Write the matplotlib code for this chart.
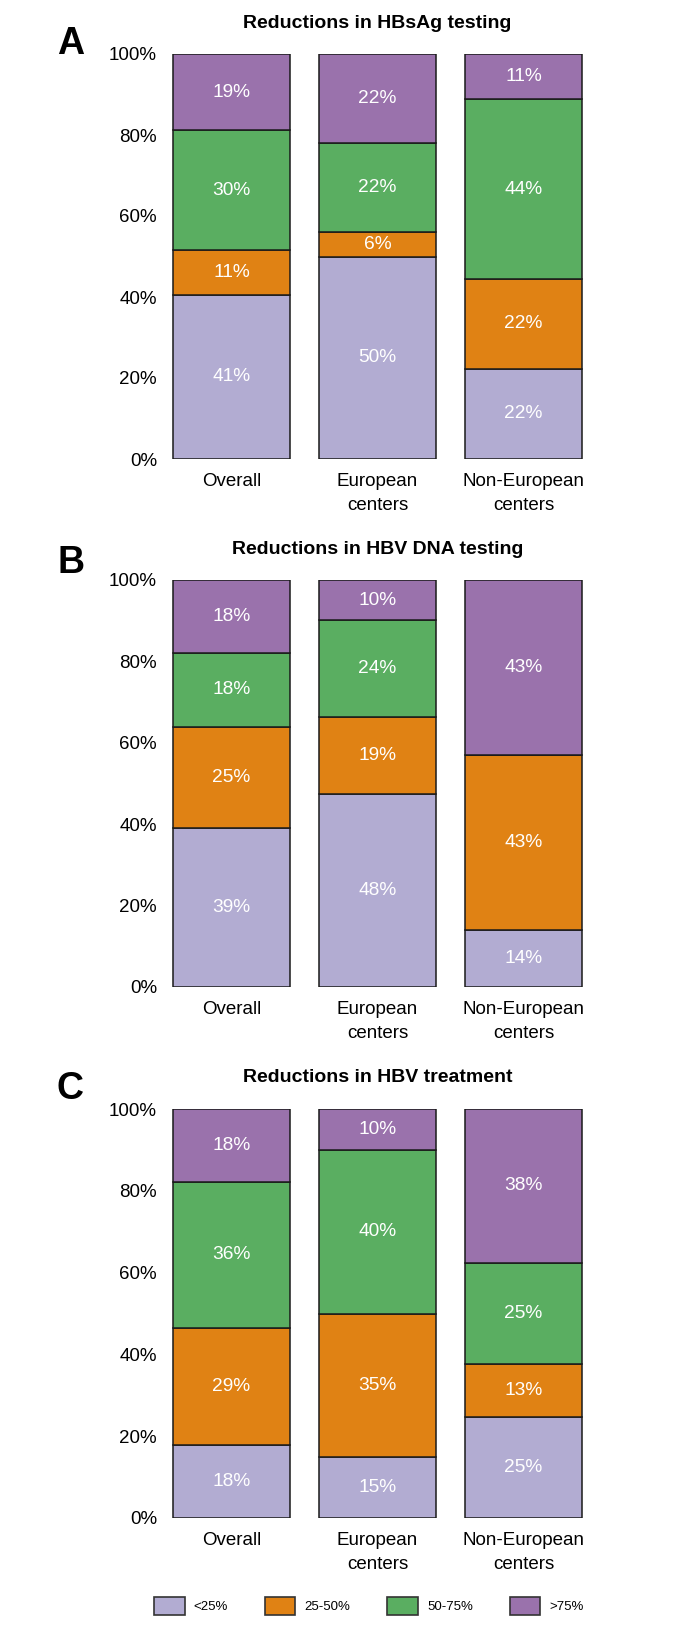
import matplotlib
matplotlib.use("Agg")
import matplotlib.pyplot as plt
import numpy as np
from matplotlib.patches import Patch

plt.rcParams['font.family'] = ['Liberation Sans', 'DejaVu Sans']

categories = ["Overall", "European\ncenters", "Non-European\ncenters"]
levels = ["<25%", "25-50%", "50-75%", ">75%"]
colors = ["#b2acd2", "#e08214", "#5aae61", "#9a72ac"]

# percent of centers per reduction level, rows = levels, cols = categories
hbsag = [[41, 50, 22],
         [11, 6, 22],
         [30, 22, 44],
         [19, 22, 11]]
hbv_dna = [[39, 48, 14],
           [25, 19, 43],
           [18, 24, 0],
           [18, 10, 43]]
hbv_treat = [[18, 15, 25],
             [29, 35, 13],
             [36, 40, 25],
             [18, 10, 38]]

panels = [("A", "Reductions in HBsAg testing", hbsag),
          ("B", "Reductions in HBV DNA testing", hbv_dna),
          ("C", "Reductions in HBV treatment", hbv_treat)]

W, H = 692, 1627
fig = plt.figure(figsize=(W / 100, H / 100), dpi=100)

# axes top/bottom in pixels, letter centre y
boxes = [(54, 459, 44), (580, 987, 563), (1109, 1518, 1089)]

x = np.arange(len(categories))
for (letter, title, data), (top, bot, ly) in zip(panels, boxes):
    ax = fig.add_axes([158.5 / W, 1 - bot / H, 438 / W, (bot - top) / H])
    vals = np.array(data, dtype=float)
    shares = vals / vals.sum(axis=0) * 100
    bottom = np.zeros(len(categories))
    for i in range(len(levels)):
        bars = ax.bar(x, shares[i], 0.8, bottom=bottom, color=colors[i],
                      edgecolor="#1a1a1a", linewidth=1.1)
        labs = ["%d%%" % v if v > 0 else "" for v in vals[i]]
        ax.bar_label(bars, labels=labs, label_type="center", color="white",
                     fontsize=13.8)
        bottom += shares[i]
    ax.set_xlim(-0.5, 2.5)
    ax.set_ylim(0, 100)
    ax.set_yticks(range(0, 101, 20))
    ax.set_yticklabels(["%d%%" % t for t in range(0, 101, 20)])
    ax.set_xticks(x)
    ax.set_xticklabels(categories, linespacing=1.55)
    ax.tick_params(length=0, labelsize=13.5)
    ax.tick_params(axis="y", pad=1)
    ax.tick_params(axis="x", pad=10)
    for s in ax.spines.values():
        s.set_visible(False)
    ax.text(0.5, 1 + 31 / (bot - top), title, transform=ax.transAxes,
            ha="center", va="center", fontsize=14, fontweight="bold")
    fig.text(57 / W, 1 - ly / H, letter, ha="left", va="center",
             fontsize=27, fontweight="bold")

handles = [Patch(facecolor=c, edgecolor="#333333", linewidth=1.2) for c in colors]
fig.legend(handles, levels, loc="center", bbox_to_anchor=(369 / W, 1 - 1606 / H),
           ncol=4, frameon=False, fontsize=9.5, handlelength=2.3,
           handleheight=1.7, handletextpad=0.7, columnspacing=2.8)

fig.savefig("out.png", dpi=100)
